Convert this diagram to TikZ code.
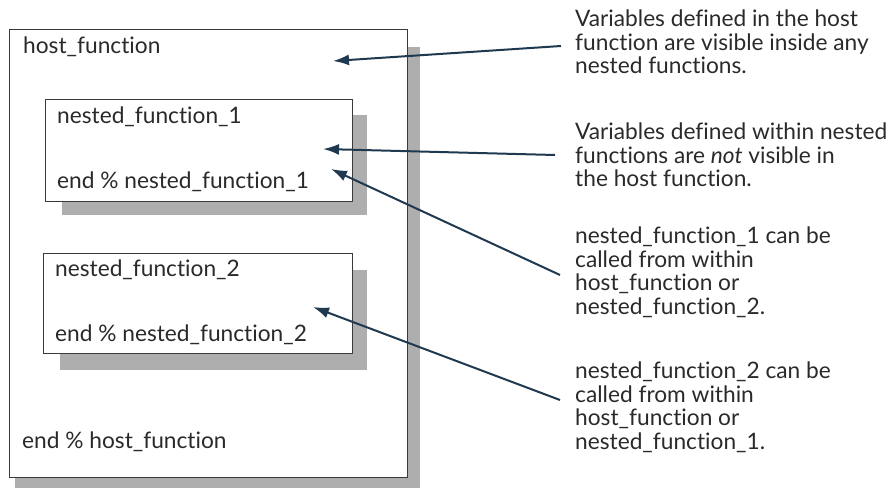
\documentclass[tikz,border=0pt]{standalone}
\usepackage{fontspec}
\setmainfont{Lato}[Ligatures=NoCommon]
\usetikzlibrary{arrows.meta}
\definecolor{ink}{HTML}{2A2A2A}
\definecolor{frame}{HTML}{3A3A3A}
\definecolor{shade}{HTML}{AEAEAE}
\definecolor{arrowc}{HTML}{1F3A50}
\tikzset{
  shadowbox/.style={fill=shade, draw=none},
  fnbox/.style={draw=frame, fill=white, line width=1.3pt, rectangle, inner sep=0pt, anchor=north west},
  code/.style={font=\fontsize{22.7}{23.5}\selectfont, text=ink, inner sep=0pt, anchor=west},
  note/.style={font=\fontsize{22.7}{23.5}\selectfont, text=ink, inner sep=0pt, align=left, anchor=north west},
  arr/.style={draw=arrowc, line width=2pt, -{Latex[length=16pt,width=11pt]}}
}
\begin{document}
\begin{tikzpicture}[x=1pt,y=-1pt]
\useasboundingbox (0,0) rectangle (891,489);

% host function with its drop shadow
\fill[shadowbox] (15,47) rectangle (420,488);
\node[fnbox, minimum width=398pt, minimum height=448pt] (host) at (9,29) {};
\node[code] (hostname) at (23,47) {host\_function};
\node[code] (hostend) at (22,442) {end \% host\_function};

% first nested function
\fill[shadowbox] (62,115) rectangle (367,215);
\node[fnbox, minimum width=307pt, minimum height=102pt] (nf1) at (45,99) {};
\node[code] (nf1name) at (57,117) {nested\_function\_1};
\node[code] (nf1end) at (57,182) {end \% nested\_function\_1};

% second nested function
\fill[shadowbox] (60,270) rectangle (367,370);
\node[fnbox, minimum width=309pt, minimum height=100pt] (nf2) at (43,253) {};
\node[code] (nf2name) at (55,270) {nested\_function\_2};
\node[code] (nf2end) at (55,335) {end \% nested\_function\_2};

% explanatory notes
\node[note] (t1) at (575,10) {Variables defined in the host\\function are visible inside any\\nested functions.};
\node[note] (t2) at (575,123) {Variables defined within nested\\functions are \textit{not} visible in\\the host function.};
\node[note] (t3) at (575,227) {nested\_function\_1 can be\\called from within\\host\_function or\\nested\_function\_2.};
\node[note] (t4) at (575,362) {nested\_function\_2 can be\\called from within\\host\_function or\\nested\_function\_1.};

% arrow ends: targets inside the boxes, starts beside the notes
\coordinate (p1) at (333,61);
\coordinate (p2) at (323,149);
\coordinate (p3) at (331,169);
\coordinate (p4) at (313,307);
\coordinate (s1) at (561,46);
\coordinate (s2) at (555,155);
\coordinate (s3) at (560,275);
\coordinate (s4) at (560,400);

\draw[arr] (s1) -- (p1);
\draw[arr] (s2) -- (p2);
\draw[arr] (s3) -- (p3);
\draw[arr] (s4) -- (p4);
\end{tikzpicture}
\end{document}
